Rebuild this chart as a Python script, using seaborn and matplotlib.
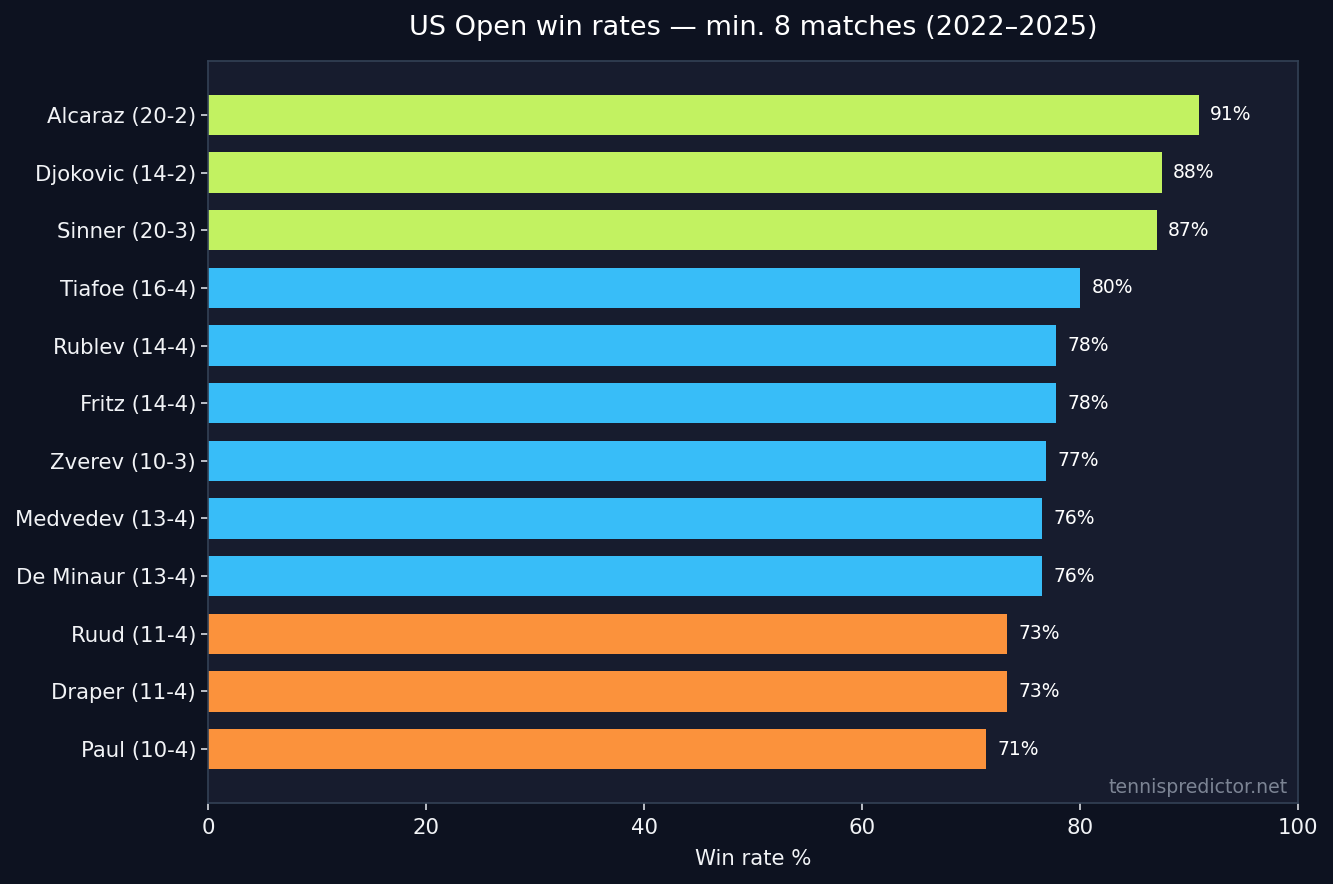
import pandas as pd
import numpy as np
import matplotlib
matplotlib.use("Agg")
import matplotlib.pyplot as plt
import seaborn as sns

# Data
players = ["Alcaraz (20-2)", "Djokovic (14-2)", "Sinner (20-3)", "Tiafoe (16-4)",
           "Rublev (14-4)", "Fritz (14-4)", "Zverev (10-3)", "Medvedev (13-4)",
           "De Minaur (13-4)", "Ruud (11-4)", "Draper (11-4)", "Paul (10-4)"]
win_rate = [90.9, 87.5, 87.0, 80.0, 77.8, 77.8, 76.9, 76.5, 76.5, 73.3, 73.3, 71.4]
tier = ["top", "top", "top", "mid", "mid", "mid", "mid", "mid", "mid", "low", "low", "low"]

df = pd.DataFrame({"Player": players, "WinRate": win_rate, "Tier": tier})
palette = {"top": "#c2f261", "mid": "#38bdf8", "low": "#fb923c"}

fig_bg = "#0d1220"
ax_bg = "#171c2e"
spine_col = "#334155"
text_col = "#f1f3f6"

sns.set_style("dark")
plt.rcParams["font.family"] = ["DejaVu Sans"]

fig = plt.figure(figsize=(13.33, 8.84), dpi=100, facecolor=fig_bg)
ax = fig.add_axes([0.156, 0.0916, 0.818, 0.8394])
ax.set_facecolor(ax_bg)

sns.barplot(data=df, x="WinRate", y="Player", hue="Tier", palette=palette,
            dodge=False, legend=False, width=0.7, saturation=1, linewidth=0, ax=ax)

# value labels
for i, v in enumerate(win_rate):
    ax.annotate(f"{v:.0f}%", xy=(v, i), xytext=(8, 0), textcoords="offset points",
                ha="left", va="center", color="white", fontsize=13.5)

ax.set_xlim(0, 100)
ax.set_ylim(11.935, -0.935)
ax.set_xticks([0, 20, 40, 60, 80, 100])
ax.grid(False)

for s in ax.spines.values():
    s.set_visible(True)
    s.set_color(spine_col)
    s.set_linewidth(1.2)

ax.tick_params(axis="both", colors="#d8dce3", labelcolor=text_col, labelsize=15.3,
               length=5, width=1.2, left=True, bottom=True)
ax.tick_params(axis="x", pad=6)
ax.set_xlabel("Win rate %", color=text_col, fontsize=15.3, labelpad=8)
ax.set_ylabel("")
ax.set_title("US Open win rates \u2014 min. 8 matches (2022\u20132025)",
             color="white", fontsize=19.5, pad=19)

ax.text(0.99, 0.008, "tennispredictor.net", transform=ax.transAxes,
        ha="right", va="bottom", color="#7c8494", fontsize=13.6)

fig.savefig("out.png", dpi=100, facecolor=fig_bg)
